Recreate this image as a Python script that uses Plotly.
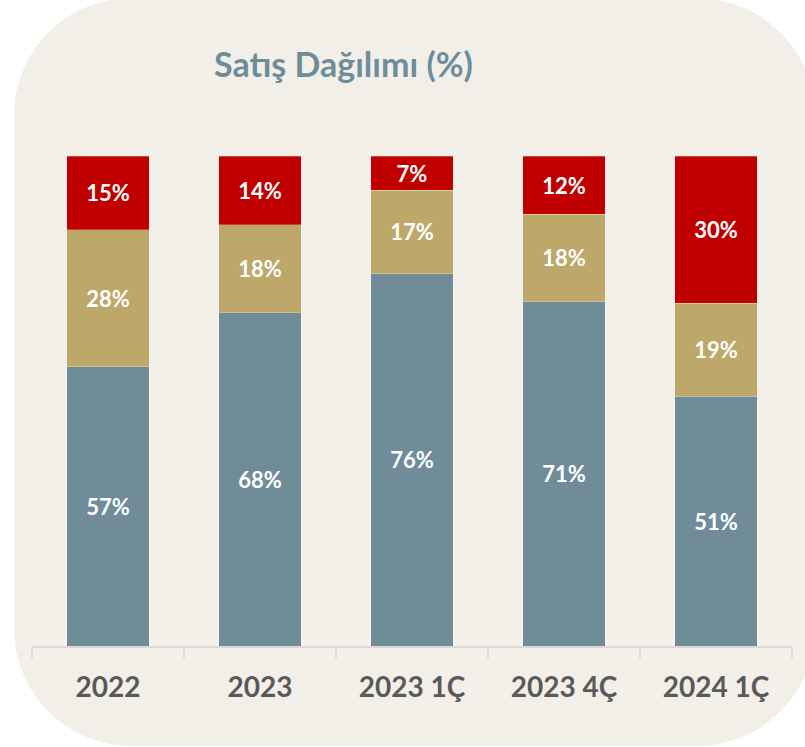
import plotly.graph_objects as go

W, H = 805, 747

categories = ["2022", "2023", "2023 1Ç", "2023 4Ç", "2024 1Ç"]
alt_pay = [57, 68, 76, 71, 51]
orta_pay = [28, 18, 17, 18, 19]
ust_pay = [15, 14, 7, 12, 30]

series = [
    ("Alt", alt_pay, "#6F8C98"),
    ("Orta", orta_pay, "#BDA869"),
    ("Üst", ust_pay, "#C00000"),
]

FONT = "Lato"


def px_x(v):
    return v / W


def px_y(v):
    return 1 - v / H


def rounded_rect(x0, y0, x1, y1, r):
    k = 0.5523 * r
    pts = [
        ("M", [(x0 + r, y0)]),
        ("L", [(x1 - r, y0)]),
        ("C", [(x1 - r + k, y0), (x1, y0 + r - k), (x1, y0 + r)]),
        ("L", [(x1, y1 - r)]),
        ("C", [(x1, y1 - r + k), (x1 - r + k, y1), (x1 - r, y1)]),
        ("L", [(x0 + r, y1)]),
        ("C", [(x0 + r - k, y1), (x0, y1 - r + k), (x0, y1 - r)]),
        ("L", [(x0, y0 + r)]),
        ("C", [(x0, y0 + r - k), (x0 + r - k, y0), (x0 + r, y0)]),
    ]
    out = []
    for cmd, coords in pts:
        out.append(cmd + " " + " ".join(f"{px_x(a):.5f},{px_y(b):.5f}" for a, b in coords))
    return " ".join(out) + " Z"


fig = go.Figure()

for name, vals, color in series:
    fig.add_trace(go.Bar(
        x=categories,
        y=vals,
        name=name,
        marker=dict(color=color, line=dict(color="rgba(255,255,255,0.25)", width=1)),
        text=[f"{v}%" for v in vals],
        texttemplate="%{text}",
        textposition="inside",
        insidetextanchor="middle",
        textangle=0,
        constraintext="none",
        textfont=dict(family=FONT, size=22, color="white", weight="bold"),
    ))

# beige rounded card behind the chart
fig.add_shape(
    type="path",
    xref="paper", yref="paper",
    path=rounded_rect(14, -2, 815, 746, 118),
    fillcolor="#F2EFE9",
    line=dict(width=0),
    layer="below",
)

fig.add_annotation(
    text="<b>Satış Dağılımı (%)</b>",
    x=px_x(343), y=px_y(64),
    xref="paper", yref="paper",
    showarrow=False,
    xanchor="center", yanchor="middle",
    font=dict(family=FONT, size=34, color="#6E8D99"),
)

fig.update_layout(
    barmode="stack",
    barnorm="percent",
    bargap=0.46,
    width=W,
    height=H,
    margin=dict(l=0, r=0, t=0, b=0),
    paper_bgcolor="white",
    plot_bgcolor="rgba(0,0,0,0)",
    showlegend=False,
    xaxis=dict(
        domain=[px_x(32), px_x(792)],
        showline=True,
        linecolor="#D9D9D9",
        linewidth=2,
        ticks="outside",
        tickson="boundaries",
        ticklen=10,
        tickcolor="#D9D9D9",
        tickwidth=2,
        showgrid=False,
        ticklabelstandoff=15,
        tickfont=dict(family=FONT, size=28, color="#595959", weight="bold"),
    ),
    yaxis=dict(
        domain=[px_y(646), px_y(156)],
        range=[0, 100],
        visible=False,
    ),
)

fig.write_html(
    "out.html",
    config={"displayModeBar": False},
    post_script="document.body.style.margin='0';",
)
